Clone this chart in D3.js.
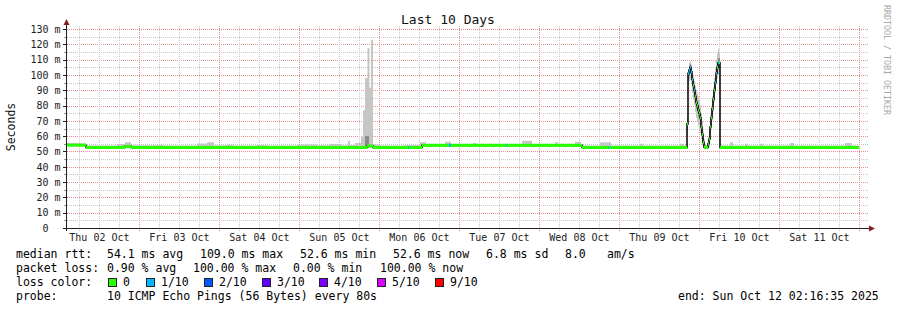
<!DOCTYPE html>
<html>
<head>
<meta charset="utf-8">
<script src="https://cdn.jsdelivr.net/npm/d3@7"></script>
<style>
body { margin: 0; background: #fff; }
text { font-family: "DejaVu Sans Mono", monospace; }
</style>
</head>
<body>
<script>
// time window of the graph
var startTime = new Date(2025, 9, 2, 2, 16, 35);
var endTime = new Date(2025, 9, 12, 2, 16, 35);
var dataEndHour = 237.6;   // last sample (hours after start)

// median rtt (ms) change points, hours after start, and lost pings out of 10
var medHours = [0, 5.7, 17.4, 19.2, 90.0, 91.8, 102.3, 102.6, 106.5, 114.6, 115.2, 131.7, 132.0, 154.5, 162.3, 162.6,
  186.0, 186.3, 186.6, 186.9, 187.2, 187.5, 187.8, 188.1, 188.4, 188.7, 189.0, 189.3, 189.6, 189.9, 190.2, 190.5,
  190.8, 191.1, 191.4, 191.7, 192.0, 192.3, 192.6, 192.9, 193.2, 193.5, 193.8, 194.1, 194.4, 194.7, 195.0, 195.3,
  195.6, 195.9];
var medRtt = [54.1, 52.6, 53.3, 52.6, 53.6, 52.6, 52.6, 52.6, 54.0, 54.0, 54.0, 54.0, 54.0, 52.6, 52.6, 52.6,
  68, 101, 103, 105, 102, 97, 93, 90, 86, 82, 80, 77, 75, 72, 66, 61,
  56, 53, 52.6, 52.6, 52.6, 55, 58, 66, 72, 78, 84, 90, 95, 101, 105, 108,
  108, 52.6];
var medLoss = [0, 0, 0, 0, 0, 0, 1, 0, 0, 1, 0, 1, 0, 0, 1, 0,
  0, 1, 1, 1, 1, 1, 0, 1, 0, 0, 0, 0, 0, 0, 0, 0,
  0, 0, 0, 0, 0, 0, 0, 0, 0, 0, 0, 0, 1, 1, 0, 1,
  0, 0];

// smoke (spread of the pings), hours after start
var smokeHours = [0, 3, 5.7, 9, 15, 17.4, 19.2, 27, 28.8, 39, 42, 44.1, 48, 49.8, 57, 60, 69, 75, 78.9, 82.2,
  84.3, 84.9, 86.4, 88.2, 88.8, 89.4, 90.15, 90.75, 91.2, 91.8, 93.9, 101.4, 105.9, 107.7, 113.4, 115.2,
  121.8, 122.7, 136.5, 139.5, 146.4, 147.3, 152.4, 154.2, 155.1, 159.9, 163.2, 171.9, 172.8, 183.9, 185.1,
  186.0, 186.3, 186.6, 186.9, 187.2, 187.5, 187.8, 188.1, 188.4, 188.7, 189.0, 189.3, 189.6, 189.9, 190.2,
  190.5, 190.8, 191.1, 191.4, 191.7, 192.0, 192.3, 192.6, 192.9, 193.2, 193.5, 193.8, 194.1, 194.4, 194.7,
  195.0, 195.3, 195.6, 195.9, 198.9, 199.8, 203.4, 204.3, 207.9, 208.8, 216.9, 218.1, 233.4, 235.5];
var smokeLow = [53.9, 53.9, 52.4, 52.4, 52.4, 52.4, 52.4, 52.4, 52.4, 52.4, 52.4, 52.4, 52.4, 52.4, 52.4, 52.4, 52.4, 52.4, 52.4, 52.4,
  52.4, 52.4, 52.4, 52.4, 52.4, 52.4, 52.4, 52.4, 52.4, 52.4, 52.4, 52.4, 53.8, 53.8, 53.8, 53.8,
  53.8, 53.8, 53.8, 53.8, 53.8, 53.8, 53.8, 53.8, 52.4, 52.4, 52.4, 52.4, 52.4, 52.4, 52.4,
  60, 92, 96, 97, 94, 88, 84, 80, 76, 72, 70, 67, 64, 62, 58,
  54, 52, 51.5, 51.5, 51.5, 51.5, 52, 53, 58, 64, 70, 76, 82, 88, 94,
  98, 100, 98, 52.4, 52.4, 52.4, 52.4, 52.4, 52.4, 52.4, 52.4, 52.4, 52.4, 52.4];
var smokeHigh = [55.6, 55.4, 53.9, 53.9, 54.9, 56.0, 54.0, 54.4, 53.9, 55.2, 56.0, 54.0, 54.5, 53.9, 54.3, 53.9, 54.5, 54.0, 54.9, 54.0,
  57.0, 54.2, 55.5, 59.5, 77, 98, 117.6, 91.7, 123, 54.5, 53.9, 54.2, 56.0, 55.0, 56.4, 55.0,
  55.6, 55.0, 57.0, 55.0, 56.0, 55.0, 56.4, 54.5, 53.9, 56.0, 53.9, 55.0, 53.9, 55.0, 53.9,
  75, 104, 108, 109, 107, 102, 99, 96, 93, 90, 88, 86, 83, 80, 75,
  70, 63, 58, 55, 54, 56, 60, 66, 74, 80, 86, 92, 98, 104, 110,
  114, 117, 115, 53.9, 56.0, 53.9, 55.0, 53.9, 55.0, 53.9, 55.5, 53.9, 55.5, 53.9];

// denser middle part of the smoke (null = none)
var coreHours = [89.4, 90.6, 186.0, 186.3, 186.6, 186.9, 187.2, 187.5, 187.8, 188.1, 188.4, 188.7, 189.0, 189.3,
  189.6, 189.9, 190.2, 190.5, 190.8, 191.1, 191.4, 191.7, 192.0, 192.3, 192.6, 192.9, 193.2, 193.5, 193.8,
  194.1, 194.4, 194.7, 195.0, 195.3, 195.6, 195.9];
var coreLow = [52.4, null, 64, 97, 99, 101, 98, 93, 89, 86, 82, 78, 76, 73, 71, 68, 62, 57, 53, 52, 52, 52, 52,
  53, 55, 62, 68, 74, 80, 86, 91, 97, 101, 104, 104, null];
var coreHigh = [60, null, 71, 103, 106, 107, 105, 100, 96, 93, 89, 85, 83, 80, 78, 75, 69, 64, 59, 55, 54, 53.5,
  54, 57, 61, 69, 75, 81, 87, 93, 98, 104, 108, 111, 111, null];

var lossLabels = ["0", "1/10", "2/10", "3/10", "4/10", "5/10", "9/10"];
var lossColors = ["#26ff00", "#00b8ff", "#0059ff", "#5e00ff", "#7e00ff", "#dd00ff", "#ff0000"];

var rttLegend = ["median rtt:", "54.1 ms avg", "109.0 ms max", "52.6 ms min", "52.6 ms now", "6.8 ms sd", "8.0", "am/s"];
var lossLegend = ["packet loss:", "0.90 % avg", "100.00 % max", "0.00 % min", "100.00 % now"];
var probeText = "10 ICMP Echo Pings (56 Bytes) every 80s";
var endText = "end: Sun Oct 12 02:16:35 2025";

var width = 897, height = 310;
var svg = d3.select("body").append("svg")
    .attr("width", width)
    .attr("height", height);

svg.append("rect").attr("width", width).attr("height", height).attr("fill", "#fff");

var x = d3.scaleTime().domain([startTime, endTime]).range([67, 867]);
var y = d3.scaleLinear().domain([0, 130]).range([228, 29]);

function hourDate(h) { return new Date(startTime.getTime() + h * 3600e3); }
function px(v) { return Math.round(v) + 0.5; }

var majorGrid = "#ee8e8e", minorGrid = "#c8c8c8";

// horizontal grid
var yTicks = d3.range(5, 131, 5);
svg.append("g").selectAll("line")
    .data(yTicks)
  .enter().append("line")
    .attr("x1", 67).attr("x2", 869)
    .attr("y1", function(d) { return px(y(d)); })
    .attr("y2", function(d) { return px(y(d)); })
    .attr("stroke", function(d) { return d % 10 == 0 ? majorGrid : minorGrid; })
    .attr("stroke-dasharray", "1,1");

// vertical grid, every 6 hours
var xTicks = d3.timeHour.every(6).range(startTime, endTime);
svg.append("g").selectAll("line")
    .data(xTicks)
  .enter().append("line")
    .attr("x1", function(d) { return px(x(d)); })
    .attr("x2", function(d) { return px(x(d)); })
    .attr("y1", 26).attr("y2", 231)
    .attr("stroke", function(d) { return d.getHours() == 0 ? majorGrid : minorGrid; })
    .attr("stroke-dasharray", "1,1");

// smoke
var smoke = smokeHours.map(function(h, i) { return {t: hourDate(h), lo: smokeLow[i], hi: smokeHigh[i]}; });
smoke.push({t: hourDate(dataEndHour), lo: smokeLow[smokeLow.length - 1], hi: smokeHigh[smokeHigh.length - 1]});
svg.append("path")
    .datum(smoke)
    .attr("fill", "#c6c6c6")
    .attr("d", d3.area().curve(d3.curveStepAfter)
        .x(function(d) { return x(d.t); })
        .y0(function(d) { return y(d.lo); })
        .y1(function(d) { return y(d.hi); }));

var core = coreHours.map(function(h, i) { return {t: hourDate(h), lo: coreLow[i], hi: coreHigh[i]}; });
svg.append("g").selectAll("rect")
    .data(core.filter(function(d, i) { return d.lo != null && i + 1 < core.length; }))
  .enter().append("rect")
    .attr("x", function(d) { return x(d.t); })
    .attr("width", function(d) { return x(core[core.indexOf(d) + 1].t) - x(d.t); })
    .attr("y", function(d) { return y(d.hi); })
    .attr("height", function(d) { return y(d.lo) - y(d.hi); })
    .attr("fill", "#8a8a8a");

// median, thin dark line then loss coloured bands
var med = medHours.map(function(h, i) { return {t: hourDate(h), v: medRtt[i], loss: medLoss[i]}; });
var medEnd = {t: hourDate(dataEndHour), v: medRtt[medRtt.length - 1], loss: 0};
svg.append("path")
    .datum(med.concat([medEnd]))
    .attr("fill", "none")
    .attr("stroke", "#101010")
    .attr("stroke-width", 1.6)
    .attr("d", d3.line().curve(d3.curveStepAfter)
        .x(function(d) { return x(d.t); })
        .y(function(d) { return y(d.v); }));

function lossIndex(n) { return n >= 6 ? 6 : n; }
svg.append("g").selectAll("rect")
    .data(med)
  .enter().append("rect")
    .attr("x", function(d) { return x(d.t); })
    .attr("width", function(d, i) { return x(i + 1 < med.length ? med[i + 1].t : medEnd.t) - x(d.t); })
    .attr("y", function(d) { return y(d.v) - 1.5; })
    .attr("height", 3)
    .attr("fill", function(d) { return lossColors[lossIndex(d.loss)]; });

// axes
var axisColor = "#202020", arrowColor = "#801f1f";
svg.append("line").attr("x1", 63).attr("x2", 869).attr("y1", 228.5).attr("y2", 228.5).attr("stroke", axisColor);
svg.append("line").attr("x1", 66.5).attr("x2", 66.5).attr("y1", 231).attr("y2", 24).attr("stroke", axisColor);
svg.append("path").attr("d", "M869,225.5L875,228.5L869,231.5Z").attr("fill", arrowColor);
svg.append("path").attr("d", "M63.5,25L66.5,19L69.5,25Z").attr("fill", arrowColor);

// y ticks and labels
svg.append("g").selectAll("line")
    .data([0].concat(yTicks))
  .enter().append("line")
    .attr("x1", function(d) { return d % 10 == 0 ? 63 : 64; }).attr("x2", 66)
    .attr("y1", function(d) { return px(y(d)); })
    .attr("y2", function(d) { return px(y(d)); })
    .attr("stroke", function(d) { return d % 10 == 0 ? axisColor : "#999"; });

svg.append("g").selectAll("text")
    .data(d3.range(0, 131, 10))
  .enter().append("text")
    .attr("x", function(d) { return d == 0 ? 48.5 : 60.5; })
    .attr("y", function(d) { return y(d) + 3.8; })
    .attr("text-anchor", "end")
    .attr("font-size", "10px")
    .attr("fill", "#222")
    .text(function(d) { return d == 0 ? "0" : d + " m"; });

// x labels at noon
var dayLabels = d3.timeDay.range(d3.timeDay.floor(startTime), endTime).map(function(d) { return d3.timeHour.offset(d, 12); })
    .filter(function(d) { return x(d) > 67 && x(d) < 867; });
svg.append("g").selectAll("text")
    .data(dayLabels)
  .enter().append("text")
    .attr("x", function(d) { return x(d); })
    .attr("y", 241)
    .attr("text-anchor", "middle")
    .attr("font-size", "10px")
    .attr("fill", "#222")
    .text(d3.timeFormat("%a %d %b"));

// title and labels
svg.append("text").attr("x", 448).attr("y", 24).attr("text-anchor", "middle")
    .attr("font-size", "13px").attr("fill", "#111").text("Last 10 Days");
svg.append("text").attr("transform", "translate(15,127) rotate(-90)").attr("text-anchor", "middle")
    .attr("font-size", "11.5px").attr("fill", "#111").text("Seconds");
svg.append("text").attr("transform", "translate(883.5,5) rotate(90)")
    .attr("font-size", "8.3px").attr("fill", "#a8a8a8").text("RRDTOOL / TOBI OETIKER");

// legend
var legend = svg.append("g").attr("font-size", "11.5px").attr("fill", "#000");
var rttX = [16, 107, 200, 300, 393, 486, 565, 607];
rttLegend.forEach(function(s, i) { legend.append("text").attr("x", rttX[i]).attr("y", 258).text(s); });
var lossX = [16, 107, 193, 293, 380];
lossLegend.forEach(function(s, i) { legend.append("text").attr("x", lossX[i]).attr("y", 272).text(s); });
legend.append("text").attr("x", 16).attr("y", 286).text("loss color:");
var boxX = [108, 146, 204, 262, 319, 377, 435];
lossLabels.forEach(function(s, i) {
  legend.append("rect").attr("x", boxX[i] + 0.5).attr("y", 278.5).attr("width", 8).attr("height", 8)
      .attr("fill", lossColors[i]).attr("stroke", "#222").attr("stroke-width", 1);
  legend.append("text").attr("x", boxX[i] + 15).attr("y", 286).text(s);
});
legend.append("text").attr("x", 16).attr("y", 300).text("probe:");
legend.append("text").attr("x", 107).attr("y", 300).text(probeText);
legend.append("text").attr("x", 678).attr("y", 300).text(endText);
</script>
</body>
</html>
